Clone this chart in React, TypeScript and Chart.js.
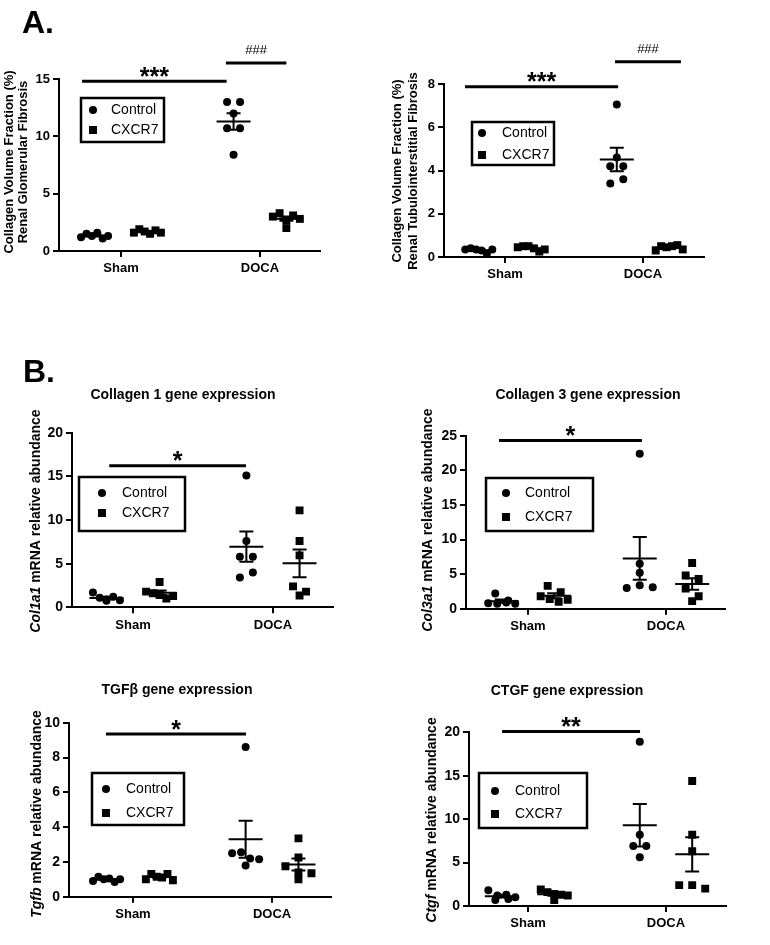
import React, { useEffect, useRef } from 'react';
import { Chart, registerables } from 'chart.js';

Chart.register(...registerables);

const FONT = '"Liberation Sans", Arial, Helvetica, sans-serif';

const categories = ['Sham', 'DOCA'];
const seriesLabels = ['Control', 'CXCR7'];

// A. Renal glomerular fibrosis (%)
const glomShamControl = [1.2, 1.5, 1.3, 1.6, 1.1, 1.3];
const glomShamCxcr7 = [1.6, 1.9, 1.7, 1.5, 1.8, 1.6];
const glomDocaControl = [13.0, 13.0, 12.0, 10.7, 10.7, 8.4];
const glomDocaCxcr7 = [3.0, 3.3, 2.7, 3.1, 2.0, 2.8];
const glomTicks = [0, 5, 10, 15];
const glomSig = [
  { from: 0.72, to: 1.76, at: 14.8, mark: '***' },
  { from: 1.755, to: 2.19, at: 16.4, mark: '###' },
];

// A. Renal tubulointerstitial fibrosis (%)
const tubShamControl = [0.35, 0.4, 0.35, 0.3, 0.15, 0.35];
const tubShamCxcr7 = [0.45, 0.5, 0.5, 0.4, 0.25, 0.35];
const tubDocaControl = [7.05, 4.6, 4.2, 4.2, 3.4, 3.6];
const tubDocaCxcr7 = [0.3, 0.5, 0.45, 0.5, 0.55, 0.35];
const tubTicks = [0, 2, 4, 6, 8];
const tubSig = [
  { from: 0.71, to: 1.82, at: 7.87, mark: '***' },
  { from: 1.797, to: 2.275, at: 9.03, mark: '###' },
];

// B. Col1a1
const col1ShamControl = [1.7, 1.1, 0.9, 1.2, 0.8, 0.75];
const col1ShamCxcr7 = [2.9, 1.8, 1.6, 1.4, 1.0, 1.3];
const col1DocaControl = [15.1, 7.6, 5.8, 5.8, 3.4, 4.0];
const col1DocaCxcr7 = [11.1, 7.6, 5.95, 2.4, 1.8, 1.35];
const col1Ticks = [0, 5, 10, 15, 20];
const col1Sig = [{ from: 0.83, to: 1.807, at: 16.2, mark: '*' }];

// B. Col3a1
const col3ShamControl = [2.2, 1.2, 0.8, 0.7, 0.9, 0.7];
const col3ShamCxcr7 = [3.3, 2.4, 1.8, 1.4, 1.0, 1.3];
const col3DocaControl = [22.4, 6.5, 5.2, 3.0, 3.4, 3.1];
const col3DocaCxcr7 = [6.6, 4.8, 4.3, 2.9, 1.8, 1.1];
const col3Ticks = [0, 5, 10, 15, 20, 25];
const col3Sig = [{ from: 0.79, to: 1.826, at: 24.3, mark: '*' }];

// B. Tgfb
const tgfbShamControl = [0.9, 1.15, 1.0, 1.05, 0.85, 1.0];
const tgfbShamCxcr7 = [1.0, 1.3, 1.15, 1.1, 1.3, 0.95];
const tgfbDocaControl = [8.6, 2.5, 2.55, 2.2, 2.15, 1.8];
const tgfbDocaCxcr7 = [3.35, 2.25, 1.75, 1.4, 1.35, 1.0];
const tgfbTicks = [0, 2, 4, 6, 8, 10];
const tgfbSig = [{ from: 0.806, to: 1.813, at: 9.35, mark: '*' }];

// B. Ctgf
const ctgfShamControl = [1.8, 1.2, 1.3, 1.0, 0.7, 0.8];
const ctgfShamCxcr7 = [1.9, 1.6, 1.4, 1.3, 1.2, 0.7];
const ctgfDocaControl = [18.9, 8.2, 6.9, 6.9, 5.6];
const ctgfDocaCxcr7 = [14.4, 8.2, 6.3, 2.4, 2.4, 2.0];
const ctgfTicks = [0, 5, 10, 15, 20];
const ctgfSig = [{ from: 0.812, to: 1.812, at: 20.08, mark: '**' }];

const OFF = 0.19;

const panels: any[] = [
  {
    id: 'glom',
    box: { left: 0, top: 0, width: 340, height: 290 },
    area: { left: 59, right: 320, top: 79, bottom: 251 },
    xRange: [0.554, 2.432],
    yTicks: glomTicks,
    tickFont: 13,
    control: [glomShamControl, glomDocaControl],
    cxcr7: [glomShamCxcr7, glomDocaCxcr7],
    sig: glomSig,
    yTitle: { lines: [[{ text: 'Collagen Volume Fraction (%)' }], [{ text: 'Renal Glomerular Fibrosis' }]], xs: [9, 23], yc: 162, size: 13 },
    tag: { text: 'A.', x: 22, y: 33 },
    legend: { x: 81, y: 98, w: 83, h: 44, sym: 12, text: 30, rows: [12, 32] },
  },
  {
    id: 'tub',
    box: { left: 385, top: 40, width: 340, height: 250 },
    area: { left: 444, right: 704, top: 84, bottom: 257 },
    xRange: [0.558, 2.442],
    yTicks: tubTicks,
    tickFont: 13,
    control: [tubShamControl, tubDocaControl],
    cxcr7: [tubShamCxcr7, tubDocaCxcr7],
    sig: tubSig,
    yTitle: { lines: [[{ text: 'Collagen Volume Fraction (%)' }], [{ text: 'Renal Tubulointerstitial Fibrosis' }]], xs: [397, 413], yc: 171, size: 13 },
    legend: { x: 472, y: 122, w: 82, h: 43, sym: 10, text: 30, rows: [11, 33] },
  },
  {
    id: 'col1',
    box: { left: 0, top: 340, width: 366, height: 300 },
    area: { left: 72, right: 333, top: 432.7, bottom: 607.3 },
    xRange: [0.564, 2.429],
    yTicks: col1Ticks,
    tickFont: 14,
    control: [col1ShamControl, col1DocaControl],
    cxcr7: [col1ShamCxcr7, col1DocaCxcr7],
    sig: col1Sig,
    yTitle: { lines: [[{ text: 'Col1a1', italic: true }, { text: ' mRNA relative abundance' }]], xs: [36], yc: 521, size: 14 },
    title: { text: 'Collagen 1 gene expression', x: 183, y: 395 },
    tag: { text: 'B.', x: 23, y: 382 },
    legend: { x: 79, y: 477, w: 106, h: 54, sym: 23, text: 43, rows: [16, 36] },
  },
  {
    id: 'col3',
    box: { left: 410, top: 380, width: 356, height: 260 },
    area: { left: 466, right: 725, top: 435.7, bottom: 608.7 },
    xRange: [0.551, 2.428],
    yTicks: col3Ticks,
    tickFont: 14,
    control: [col3ShamControl, col3DocaControl],
    cxcr7: [col3ShamCxcr7, col3DocaCxcr7],
    sig: col3Sig,
    yTitle: { lines: [[{ text: 'Col3a1', italic: true }, { text: ' mRNA relative abundance' }]], xs: [428], yc: 520, size: 14 },
    title: { text: 'Collagen 3 gene expression', x: 588, y: 395 },
    legend: { x: 486, y: 478, w: 107, h: 53, sym: 20, text: 39, rows: [15, 39] },
  },
  {
    id: 'tgfb',
    box: { left: 0, top: 675, width: 354, height: 260 },
    area: { left: 69, right: 331, top: 722.7, bottom: 896.7 },
    xRange: [0.54, 2.424],
    yTicks: tgfbTicks,
    tickFont: 14,
    control: [tgfbShamControl, tgfbDocaControl],
    cxcr7: [tgfbShamCxcr7, tgfbDocaCxcr7],
    sig: tgfbSig,
    yTitle: { lines: [[{ text: 'Tgfb', italic: true }, { text: ' mRNA relative abundance' }]], xs: [37], yc: 814, size: 14 },
    title: { text: 'TGFβ gene expression', x: 177, y: 690 },
    legend: { x: 92, y: 773, w: 92, h: 52, sym: 14, text: 34, rows: [16, 40] },
  },
  {
    id: 'ctgf',
    box: { left: 385, top: 675, width: 364, height: 260 },
    area: { left: 469, right: 726, top: 732.3, bottom: 906 },
    xRange: [0.572, 2.435],
    yTicks: ctgfTicks,
    tickFont: 14,
    control: [ctgfShamControl, ctgfDocaControl],
    cxcr7: [ctgfShamCxcr7, ctgfDocaCxcr7],
    sig: ctgfSig,
    yTitle: { lines: [[{ text: 'Ctgf', italic: true }, { text: ' mRNA relative abundance' }]], xs: [432], yc: 820, size: 14 },
    title: { text: 'CTGF gene expression', x: 567, y: 691 },
    legend: { x: 479, y: 773, w: 108, h: 55, sym: 16, text: 36, rows: [18, 41] },
  },
];

function stats(vals: number[]) {
  const n = vals.length;
  const m = vals.reduce((a, b) => a + b, 0) / n;
  const sd = Math.sqrt(vals.reduce((a, v) => a + (v - m) * (v - m), 0) / (n - 1));
  return { m, se: sd / Math.sqrt(n) };
}

function makePlugin(p: any) {
  return {
    id: 'panel-' + p.id,
    afterDatasetsUpdate(chart: any) {
      const ROW = 8;
      chart.data.datasets.forEach((ds: any, di: number) => {
        const meta = chart.getDatasetMeta(di);
        const groups = new Map<number, any[]>();
        meta.data.forEach((el: any, i: number) => {
          const k = ds.data[i].x;
          if (!groups.has(k)) groups.set(k, []);
          groups.get(k)!.push({ el, i });
        });
        groups.forEach((items) => {
          const s = [...items].sort((a, b) => a.el.y - b.el.y);
          let i = 0;
          while (i < s.length) {
            let j = i;
            while (j + 1 < s.length && s[j + 1].el.y - s[i].el.y < ROW) j++;
            const row = s.slice(i, j + 1).sort((a, b) => a.i - b.i);
            const k = row.length;
            const sp = k > 1 ? Math.min(13, 27 / (k - 1)) : 0;
            row.forEach((it: any, r: number) => {
              it.el.x += (r - (k - 1) / 2) * sp;
            });
            i = j + 1;
          }
        });
      });
    },
    afterDatasetsDraw(chart: any) {
      const ctx = chart.ctx;
      const xs = chart.scales.x;
      const ys = chart.scales.y;
      const ox = -p.box.left;
      const oy = -p.box.top;
      ctx.save();
      ctx.strokeStyle = '#000';
      ctx.fillStyle = '#000';

      // mean ± SEM
      ctx.lineWidth = 2;
      ([[p.control, -OFF], [p.cxcr7, OFF]] as any[]).forEach(([groups, shift]) => {
        groups.forEach((vals: number[], gi: number) => {
          const { m, se } = stats(vals);
          const cx = xs.getPixelForValue(gi + 1 + shift);
          const ym = ys.getPixelForValue(m);
          const yt = ys.getPixelForValue(m + se);
          const yb = ys.getPixelForValue(m - se);
          ctx.beginPath();
          ctx.moveTo(cx - 17, ym);
          ctx.lineTo(cx + 17, ym);
          ctx.moveTo(cx, yt);
          ctx.lineTo(cx, yb);
          ctx.moveTo(cx - 7, yt);
          ctx.lineTo(cx + 7, yt);
          ctx.moveTo(cx - 7, yb);
          ctx.lineTo(cx + 7, yb);
          ctx.stroke();
        });
      });

      // significance bars
      p.sig.forEach((s: any) => {
        const x1 = xs.getPixelForValue(s.from);
        const x2 = xs.getPixelForValue(s.to);
        const y = ys.getPixelForValue(s.at);
        ctx.lineWidth = 3;
        ctx.beginPath();
        ctx.moveTo(x1, y);
        ctx.lineTo(x2, y);
        ctx.stroke();
        const star = s.mark.charAt(0) === '*';
        ctx.font = star ? `bold 25px ${FONT}` : `13px ${FONT}`;
        ctx.textAlign = 'center';
        ctx.textBaseline = 'alphabetic';
        ctx.fillText(s.mark, (x1 + x2) / 2, y + (star ? 3.5 : -8.5));
      });

      // legend
      const L = p.legend;
      const lx = L.x + ox;
      const ly = L.y + oy;
      ctx.lineWidth = 2.5;
      ctx.strokeRect(lx, ly, L.w, L.h);
      ctx.beginPath();
      ctx.arc(lx + L.sym, ly + L.rows[0], 4, 0, Math.PI * 2);
      ctx.fill();
      ctx.fillRect(lx + L.sym - 4, ly + L.rows[1] - 4, 8, 8);
      ctx.font = `14px ${FONT}`;
      ctx.textAlign = 'left';
      ctx.textBaseline = 'middle';
      ctx.fillText(seriesLabels[0], lx + L.text, ly + L.rows[0]);
      ctx.fillText(seriesLabels[1], lx + L.text, ly + L.rows[1]);

      // y-axis title
      const T = p.yTitle;
      T.lines.forEach((parts: any[], li: number) => {
        ctx.save();
        ctx.translate(T.xs[li] + ox, T.yc + oy);
        ctx.rotate(-Math.PI / 2);
        const fonts = parts.map((pt) => `${pt.italic ? 'italic ' : ''}bold ${T.size}px ${FONT}`);
        const widths = parts.map((pt, i) => {
          ctx.font = fonts[i];
          return ctx.measureText(pt.text).width;
        });
        const total = widths.reduce((a, b) => a + b, 0);
        let cx = -total / 2;
        ctx.textAlign = 'left';
        ctx.textBaseline = 'middle';
        parts.forEach((pt, i) => {
          ctx.font = fonts[i];
          ctx.fillText(pt.text, cx, 0);
          cx += widths[i];
        });
        ctx.restore();
      });

      // chart title
      if (p.title) {
        ctx.font = `bold 14px ${FONT}`;
        ctx.textAlign = 'center';
        ctx.textBaseline = 'middle';
        ctx.fillText(p.title.text, p.title.x + ox, p.title.y + oy);
      }

      // panel tag
      if (p.tag) {
        ctx.font = `bold 32px ${FONT}`;
        ctx.textAlign = 'left';
        ctx.textBaseline = 'alphabetic';
        ctx.fillText(p.tag.text, p.tag.x + ox, p.tag.y + oy);
      }
      ctx.restore();
    },
  };
}

function makeChart(canvas: HTMLCanvasElement, p: any) {
  const toPts = (groups: number[][], shift: number) =>
    groups.flatMap((vals, gi) => vals.map((v) => ({ x: gi + 1 + shift, y: v })));
  const axisGrid = { display: true, drawOnChartArea: false, drawTicks: true, tickLength: 6, color: '#000', lineWidth: 2 };
  const axisBorder = { display: true, color: '#000', width: 2 };
  return new Chart(canvas, {
    type: 'scatter',
    data: {
      datasets: [
        {
          label: seriesLabels[0],
          data: toPts(p.control, -OFF),
          pointStyle: 'circle',
          pointRadius: 4,
          backgroundColor: '#000',
          borderColor: '#000',
          borderWidth: 0,
        },
        {
          label: seriesLabels[1],
          data: toPts(p.cxcr7, OFF),
          pointStyle: 'rect',
          pointRadius: 5.6,
          backgroundColor: '#000',
          borderColor: '#000',
          borderWidth: 0,
        },
      ],
    },
    options: {
      animation: false,
      responsive: false,
      events: [],
      layout: {
        padding: {
          top: p.area.top - p.box.top,
          right: p.box.left + p.box.width - p.area.right,
          left: 0,
          bottom: 0,
        },
      },
      plugins: {
        legend: { display: false },
        tooltip: { enabled: false },
        title: { display: false },
      },
      scales: {
        x: {
          type: 'linear',
          min: p.xRange[0],
          max: p.xRange[1],
          afterFit: (s: any) => {
            s.height = p.box.top + p.box.height - p.area.bottom;
          },
          afterBuildTicks: (s: any) => {
            s.ticks = categories.map((_, i) => ({ value: i + 1 }));
          },
          ticks: {
            callback: (v: any) => categories[Math.round(Number(v)) - 1] ?? '',
            color: '#000',
            font: { family: FONT, size: 13, weight: 'bold' },
            padding: 4,
            maxRotation: 0,
            autoSkip: false,
          },
          grid: axisGrid,
          border: axisBorder,
        },
        y: {
          type: 'linear',
          min: 0,
          max: p.yTicks[p.yTicks.length - 1],
          afterFit: (s: any) => {
            s.width = p.area.left - p.box.left;
          },
          afterBuildTicks: (s: any) => {
            s.ticks = p.yTicks.map((v: number) => ({ value: v }));
          },
          ticks: {
            color: '#000',
            font: { family: FONT, size: p.tickFont, weight: 'bold' },
            padding: 3,
          },
          grid: axisGrid,
          border: axisBorder,
        },
      },
    } as any,
    plugins: [makePlugin(p)],
  });
}

function Panel({ p }: { p: any }) {
  const ref = useRef<HTMLCanvasElement>(null);
  useEffect(() => {
    const chart = makeChart(ref.current!, p);
    return () => chart.destroy();
  }, [p]);
  return (
    <canvas
      ref={ref}
      width={p.box.width}
      height={p.box.height}
      style={{ position: 'absolute', left: p.box.left, top: p.box.top, width: p.box.width, height: p.box.height }}
    />
  );
}

export default function App() {
  return (
    <div style={{ position: 'absolute', left: 0, top: 0, width: 770, height: 945, background: '#fff', overflow: 'hidden' }}>
      {panels.map((p) => (
        <Panel key={p.id} p={p} />
      ))}
    </div>
  );
}
